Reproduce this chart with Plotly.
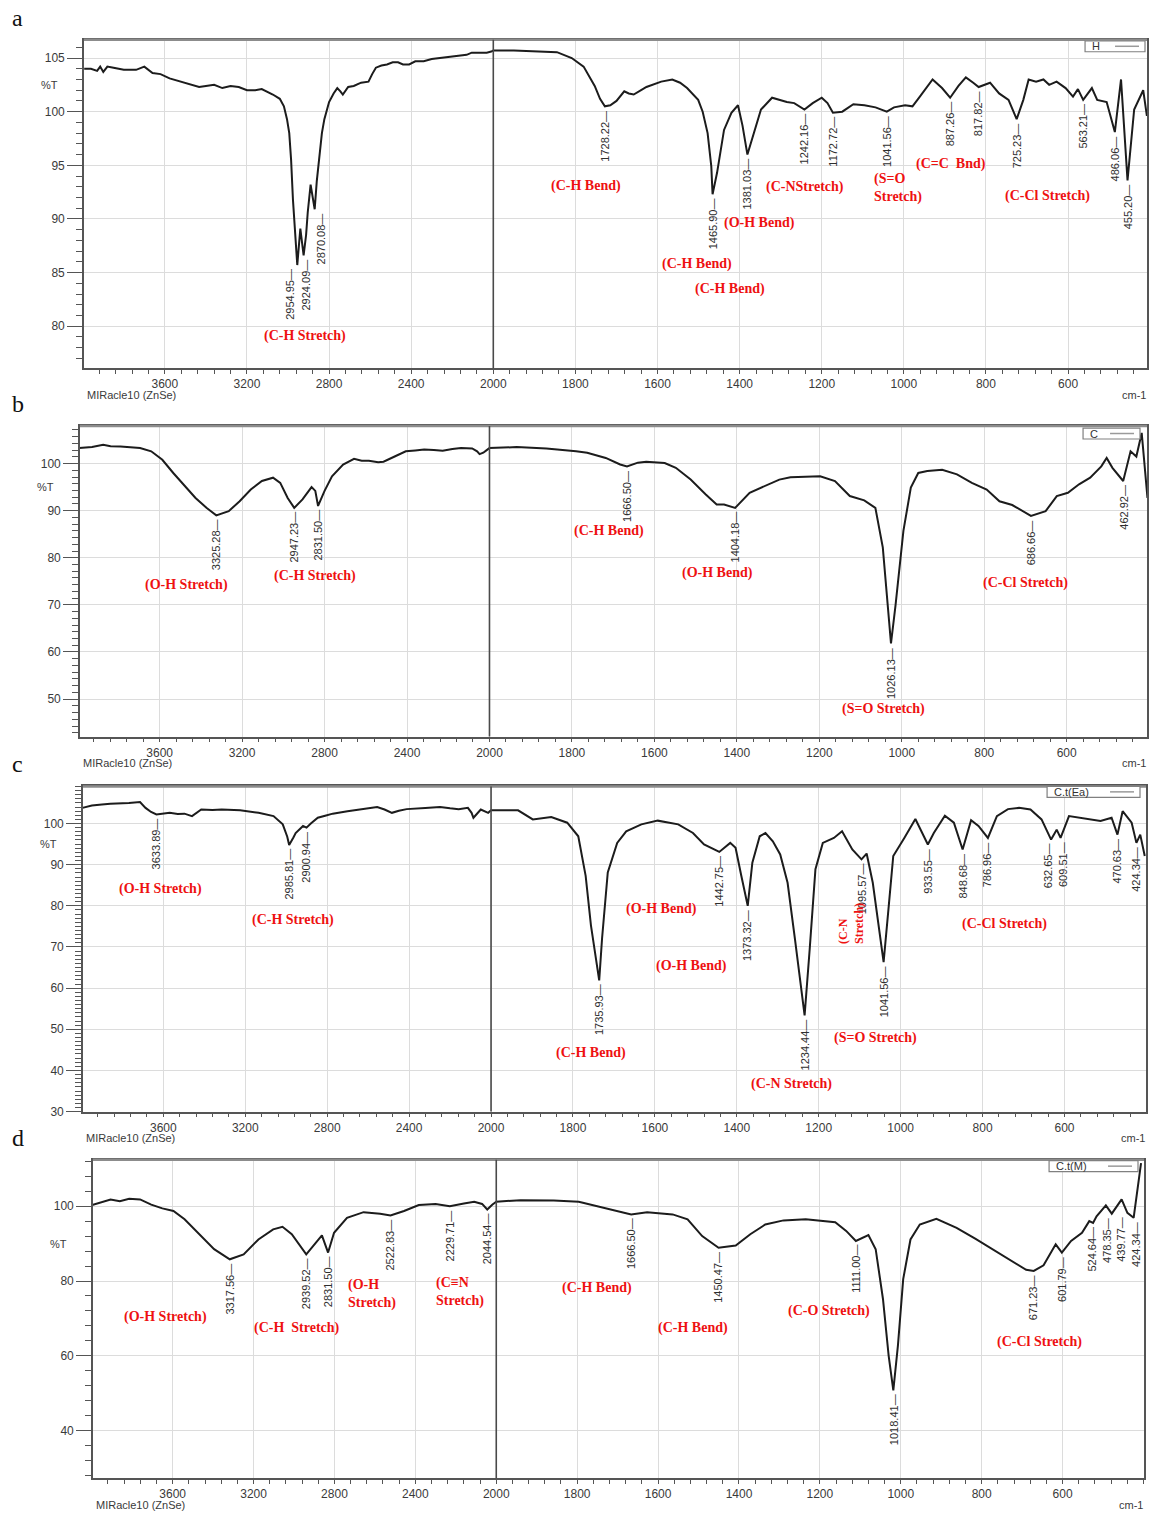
import numpy as np
import plotly.graph_objects as go

W, H = 1149, 1533

# ---------------------------------------------------------------------------
# FTIR spectra: wavenumber (cm-1, descending) and transmittance (%T)
# ---------------------------------------------------------------------------
wn_a = [3993, 3960, 3930, 3915, 3900, 3880, 3850, 3800, 3740, 3700,
        3660, 3621, 3577, 3540, 3505, 3470, 3433, 3400, 3360, 3320,
        3280, 3240, 3200, 3160, 3128, 3074, 3040, 3020, 3005, 2994,
        2985, 2976, 2965, 2954.95, 2940, 2924.09, 2912, 2904, 2890, 2880,
        2870.08, 2860, 2850, 2835, 2823, 2800, 2778, 2760, 2745, 2733,
        2707, 2680, 2644, 2608, 2590, 2572, 2545, 2518, 2490, 2464,
        2440, 2410, 2380, 2339, 2300, 2249, 2200, 2159, 2130, 2105,
        2070, 2032, 2010, 2000, 1950, 1899, 1845, 1809, 1780, 1753,
        1740, 1728.22, 1715, 1700, 1681, 1670, 1658, 1640, 1627, 1591,
        1564, 1545, 1528, 1501, 1490, 1478, 1469, 1465.90, 1455, 1438,
        1420, 1404, 1393, 1381.03, 1366, 1348, 1321, 1285, 1267, 1242.16,
        1222, 1200, 1186, 1172.72, 1150, 1123, 1096, 1069, 1041.56, 1024,
        997, 979, 961, 930, 907, 887.26, 867, 849, 831, 817.82,
        790, 768, 745, 725.23, 709, 696, 678, 660, 646, 628,
        606, 588, 576, 563.21, 542, 529, 506, 486.06, 471, 455.20,
        439, 417, 408]
T_a = [104.0, 104.0, 103.8, 104.2, 103.7, 104.2, 104.1, 103.9, 103.9, 104.2,
       103.6, 103.5, 103.1, 102.9, 102.7, 102.5, 102.3, 102.4, 102.5, 102.2,
       102.4, 102.3, 102.0, 102.0, 102.1, 101.6, 101.2, 100.5, 99.3, 98.0,
       95.5, 91.8, 88.0, 85.7, 89.1, 86.6, 88.5, 90.6, 93.2, 92.0,
       90.9, 93.5, 95.6, 98.0, 99.3, 100.9, 101.7, 102.2, 101.9, 101.6,
       102.3, 102.4, 102.7, 102.8, 103.5, 104.1, 104.3, 104.4, 104.6, 104.6,
       104.4, 104.4, 104.7, 104.7, 104.9, 105.0, 105.1, 105.2, 105.3, 105.5,
       105.5, 105.5, 105.6, 105.7, 105.7, 105.6, 105.55, 105.0, 104.2, 102.4,
       101.2, 100.5, 100.6, 101.0, 101.9, 101.7, 101.6, 102.0, 102.3, 102.8,
       103.0, 102.7, 102.2, 101.1, 100.0, 98.0, 94.9, 92.3, 94.3, 98.3,
       99.9, 100.6, 98.7, 96.0, 98.0, 100.2, 101.3, 100.9, 100.8, 100.2,
       100.8, 101.3, 100.8, 99.9, 100.0, 100.7, 100.6, 100.4, 100.0, 100.4,
       100.6, 100.5, 101.4, 103.0, 102.2, 101.3, 102.4, 103.2, 102.7, 102.3,
       102.7, 101.7, 101.1, 99.3, 101.1, 103.0, 102.8, 103.0, 102.5, 102.8,
       102.2, 101.4, 102.1, 101.1, 102.2, 101.1, 100.9, 98.1, 103.0, 93.6,
       100.2, 102.0, 99.6]
peaks_a = ["2954.95", "2924.09", "2870.08", "1728.22", "1465.90", "1381.03",
           "1242.16", "1172.72", "1041.56", "887.26", "817.82", "725.23",
           "563.21", "486.06", "455.20"]

wn_b = [3990, 3928, 3874, 3838, 3790, 3749, 3695, 3641, 3587, 3534,
        3480, 3426, 3373, 3325.28, 3265, 3212, 3158, 3104, 3050, 3015,
        2979, 2947.23, 2907, 2863, 2845, 2831.50, 2800, 2764, 2710, 2657,
        2620, 2585, 2540, 2514, 2460, 2406, 2360, 2317, 2270, 2227,
        2180, 2138, 2084, 2060, 2048, 2030, 2015, 2000, 1934, 1862,
        1790, 1763, 1718, 1683, 1666.50, 1640, 1620, 1575, 1548, 1512,
        1476, 1449, 1431, 1404.18, 1369, 1333, 1297, 1270, 1198, 1162,
        1126, 1091, 1064, 1046, 1035, 1026.13, 1015, 1004, 996, 978,
        960, 938, 902, 866, 830, 794, 763, 732, 700, 686.66,
        651, 624, 597, 570, 543, 516, 503, 489, 462.92, 445,
        431, 418, 404]
T_b = [103.3, 103.5, 104.0, 103.7, 103.6, 103.5, 103.3, 102.6, 100.8, 98.0,
       95.4, 92.7, 90.6, 89.0, 89.9, 92.0, 94.5, 96.3, 97.0, 95.9,
       92.7, 90.6, 92.4, 95.0, 94.2, 91.0, 94.2, 97.3, 99.8, 101.0,
       100.6, 100.6, 100.3, 100.4, 101.5, 102.6, 102.8, 103.0, 102.9, 102.7,
       103.1, 103.3, 103.2, 102.6, 102.0, 102.3, 102.8, 103.3, 103.5, 103.2,
       102.6, 102.3, 101.2, 99.8, 99.4, 100.2, 100.4, 100.1, 99.1, 96.6,
       93.5, 91.3, 91.3, 90.6, 93.8, 95.2, 96.6, 97.1, 97.3, 96.3,
       93.1, 92.2, 90.6, 82.2, 70.2, 61.8, 70.0, 80.0, 85.7, 94.9,
       98.0, 98.4, 98.7, 97.7, 95.9, 94.5, 92.0, 91.2, 89.5, 88.9,
       89.9, 93.1, 93.8, 95.6, 97.0, 99.4, 101.2, 99.1, 96.3, 102.6,
       101.5, 106.5, 92.7]
peaks_b = ["3325.28", "2947.23", "2831.50", "1666.50", "1404.18", "1026.13",
           "686.66", "462.92"]

wn_c = [3995, 3949, 3900, 3859, 3768, 3714, 3687, 3660, 3633.89, 3600,
        3569, 3530, 3497, 3460, 3415, 3360, 3315, 3225, 3180, 3135,
        3062, 3017, 2995, 2985.81, 2965, 2954, 2918, 2900.94, 2880, 2846,
        2810, 2773, 2701, 2629, 2556, 2520, 2484, 2450, 2412, 2321,
        2249, 2200, 2158, 2113, 2095, 2086, 2065, 2050, 2014, 2000,
        1934, 1898, 1853, 1814, 1787, 1769, 1756, 1735.93, 1729, 1715,
        1692, 1670, 1633, 1593, 1543, 1507, 1480, 1442.75, 1416, 1403,
        1389, 1373.32, 1362, 1344, 1330, 1312, 1294, 1276, 1258, 1234.44,
        1222, 1208, 1190, 1163, 1143, 1118, 1095.57, 1083, 1068, 1041.56,
        1029, 1018, 991, 964, 933.55, 919, 892, 870, 848.68, 828,
        810, 786.96, 765, 738, 711, 683, 656, 632.65, 619, 609.51,
        589, 548, 512, 485, 470.63, 458, 436, 424.34, 415, 404]
T_c = [103.8, 104.4, 104.6, 104.8, 105.0, 105.2, 103.8, 102.8, 102.2, 102.5,
       102.6, 102.3, 102.4, 101.8, 103.4, 103.3, 103.4, 103.2, 102.9, 102.6,
       101.8, 99.8, 96.8, 94.8, 96.6, 97.7, 99.4, 99.0, 100.0, 101.4,
       101.9, 102.4, 103.0, 103.5, 104.0, 103.4, 102.6, 103.1, 103.5, 103.8,
       104.0, 103.7, 103.5, 103.8, 102.6, 101.4, 102.6, 103.4, 102.6, 103.2,
       103.2, 101.0, 101.6, 100.2, 96.9, 87.3, 75.2, 61.9, 72.0, 88.1,
       95.3, 98.1, 99.8, 100.7, 99.8, 97.7, 94.9, 93.1, 95.3, 94.1,
       87.3, 80.0, 90.5, 96.9, 97.7, 95.7, 92.5, 85.6, 71.9, 53.4,
       69.5, 88.9, 95.3, 96.5, 98.1, 93.7, 91.3, 92.7, 85.6, 66.3,
       80.0, 92.1, 96.5, 101.1, 94.9, 97.7, 101.9, 100.2, 93.7, 100.8,
       99.4, 96.5, 101.8, 103.5, 103.8, 103.4, 101.0, 96.1, 98.5, 96.5,
       101.8, 101.1, 100.6, 101.4, 97.3, 103.0, 100.2, 95.3, 97.3, 92.1]
peaks_c = ["3633.89", "2985.81", "2900.94", "1735.93", "1442.75", "1373.32",
           "1234.44", "1095.57", "1041.56", "933.55", "848.68", "786.96",
           "632.65", "609.51", "470.63", "424.34"]

wn_d = [3998, 3943, 3907, 3861, 3815, 3761, 3706, 3651, 3596, 3541,
        3468, 3395, 3317.56, 3249, 3176, 3103, 3057, 3011, 2939.52, 2893,
        2862, 2831.50, 2802, 2738, 2656, 2574, 2522.83, 2456, 2383, 2300,
        2229.71, 2160, 2109, 2070, 2044.54, 2020, 2000, 1940, 1858, 1796,
        1765, 1719, 1666.50, 1627, 1564, 1527, 1491, 1450.47, 1408, 1372,
        1335, 1290, 1235, 1162, 1135, 1111.00, 1080, 1062, 1044, 1030,
        1018.41, 1007, 994, 976, 953, 912, 862, 816, 771, 725,
        690, 671.23, 647, 617, 601.79, 579, 552, 534, 524.64, 516,
        493, 478.35, 454, 439.77, 424.34, 406]
T_d = [100.3, 101.1, 101.8, 101.3, 102.0, 101.8, 100.4, 99.4, 98.7, 96.5,
       92.5, 88.5, 85.8, 87.1, 91.1, 93.8, 94.5, 92.5, 87.1, 90.2,
       92.2, 87.6, 92.9, 96.9, 98.4, 98.0, 97.5, 98.7, 100.3, 100.6,
       100.0, 100.7, 101.2, 100.6, 99.1, 100.4, 101.2, 101.6, 101.5, 101.2,
       100.4, 99.1, 97.8, 98.4, 97.8, 96.5, 92.0, 88.9, 89.5, 92.5,
       95.1, 96.2, 96.5, 95.7, 93.4, 90.7, 92.3, 88.5, 75.2, 60.1,
       50.8, 62.8, 80.5, 91.1, 95.1, 96.6, 94.2, 91.3, 88.3, 85.4,
       83.0, 82.7, 84.2, 89.8, 87.6, 90.7, 92.9, 96.0, 95.5, 97.3,
       100.2, 98.0, 101.8, 98.2, 96.9, 111.5]
peaks_d = ["3317.56", "2939.52", "2831.50", "2522.83", "2229.71", "2044.54",
           "1666.50", "1450.47", "1111.00", "1018.41", "671.23", "601.79",
           "524.64", "478.35", "439.77", "424.34"]

# Band assignments: (text, wavenumber, %T, anchor, rotated)
bands_a = [("(C-H Stretch)", 2918, 79.1), ("(C-H Bend)", 1775, 93.1),
           ("(C-H Bend)", 1503, 85.8), ("(C-H Bend)", 1423, 83.5),
           ("(O-H Bend)", 1352, 89.6), ("(C-NStretch)", 1240, 93.0),
           ("(S=O<br>Stretch)", 1077, 92.9, "left"), ("(C=C  Bnd)", 885, 95.1),
           ("(C-Cl Stretch)", 649, 92.1)]
bands_b = [("(O-H Stretch)", 3470, 74.2), ("(C-H Stretch)", 2848, 76.1),
           ("(C-H Bend)", 1711, 85.6), ("(O-H Bend)", 1447, 76.7),
           ("(S=O Stretch)", 1044, 47.9), ("(C-Cl Stretch)", 701, 74.6)]
bands_c = [("(O-H Stretch)", 3612, 84.1), ("(C-H Stretch)", 2966, 76.6),
           ("(O-H Bend)", 1584, 79.3), ("(O-H Bend)", 1511, 65.5),
           ("(C-H Bend)", 1755, 44.2), ("(C-N Stretch)", 1267, 36.7),
           ("(S=O Stretch)", 1062, 48.0), ("(C-Cl Stretch)", 747, 75.7),
           ("(C-N<br>Stretch)", 1121, 75.6, "center", True)]
bands_d = [("(O-H Stretch)", 3634, 70.4), ("(C-H  Stretch)", 2986, 67.5),
           ("(O-H<br>Stretch)", 2744, 76.6, "left"),
           ("(C≡N<br>Stretch)", 2310, 77.0, "left"),
           ("(C-H Bend)", 1752, 78.1), ("(C-H Bend)", 1513, 67.5),
           ("(C-O Stretch)", 1177, 72.0), ("(C-Cl Stretch)", 656, 63.7)]

samples = ["H", "C", "C.t(Ea)", "C.t(M)"]
x_ticks = [3600, 3200, 2800, 2400, 2000, 1800, 1600, 1400, 1200, 1000, 800, 600]


def xt(w):
    """Instrument x scale: above 2000 cm-1 the axis is compressed 2:1."""
    w = np.asarray(w, dtype=float)
    return np.where(w > 2000, 2000 + (w - 2000) / 2.0, w)


# Panel geometry (pixels on the page) and axis settings
panels = [
    dict(tag="a", wn=wn_a, T=T_a, peaks=peaks_a, bands=bands_a,
         frame=(84, 40, 1148, 370), gx=(165, 1069), gy=((105, 58.3), (80, 327.7)),
         yt=[80, 85, 90, 95, 100, 105], ymin=1, pct=85, box=(1086, 41, 1146, 52),
         shift={"2954.95": -8, "2924.09": 2, "2870.08": 6}),
    dict(tag="b", wn=wn_b, T=T_b, peaks=peaks_b, bands=bands_b,
         frame=(80, 428, 1148, 740), gx=(159.8, 1067.6), gy=((100, 465.7), (50, 702.3)),
         yt=[50, 60, 70, 80, 90, 100], ymin=10 / 7, pct=489, box=(1084, 430, 1141, 441),
         shift={}),
    dict(tag="c", wn=wn_c, T=T_c, peaks=peaks_c, bands=bands_c,
         frame=(83, 790, 1147, 1116.7), gx=(163.5, 1065.4), gy=((100, 827.3), (30, 1116.7)),
         yt=[30, 40, 50, 60, 70, 80, 90, 100], ymin=1, pct=848, box=(1048, 790, 1141, 801),
         shift={"632.65": -3, "609.51": 3}),
    dict(tag="d", wn=wn_d, T=T_d, peaks=peaks_d, bands=bands_d,
         frame=(93, 1165, 1145, 1485), gx=(172.8, 1063.5), gy=((100, 1211.7), (40, 1437.3)),
         yt=[40, 60, 80, 100], ymin=4, pct=1250, box=(1050, 1166, 1139, 1177),
         shift={"524.64": -2, "478.35": -5, "439.77": -6, "424.34": 3}),
]

AX = "#555555"
GRID = "#dcdcdc"
TXT = "#3a3a3a"
SANS = "Liberation Sans, Arial, sans-serif"
NARROW = "Liberation Sans Narrow, Arial Narrow, Liberation Sans, sans-serif"
SERIF = "Liberation Serif, Times New Roman, serif"

fig = go.Figure()
layout = dict(width=W, height=H, margin=dict(l=0, r=0, t=0, b=0),
              paper_bgcolor="white", plot_bgcolor="white", showlegend=False)
annotations, shapes = [], []


def px(x):
    return x / W


def py(y):
    return 1 - y / H


for i, p in enumerate(panels, start=1):
    sx = "" if i == 1 else str(i)
    xa, ya = "x" + sx, "y" + sx
    fx0, fy0, fx1, fy1 = p["frame"]

    # map frame pixels to axis ranges
    k = (p["gx"][1] - p["gx"][0]) / 2200.0
    xr = [2800 + (p["gx"][0] - fx0) / k, 600 - (fx1 - p["gx"][1]) / k]
    (vhi, phi), (vlo, plo) = p["gy"]
    s = (plo - phi) / (vhi - vlo)
    yr = [vlo - (fy1 - plo) / s, vhi + (phi - fy0) / s]

    wn = np.array(p["wn"], dtype=float)
    T = np.array(p["T"], dtype=float)
    fig.add_trace(go.Scatter(x=xt(wn), y=T, mode="lines", name=samples[i - 1],
                             line=dict(color="#1c1c1c", width=2.0),
                             xaxis=xa, yaxis=ya, hoverinfo="skip"))

    layout["xaxis" + sx] = dict(
        domain=[px(fx0), px(fx1)], range=xr, anchor=ya,
        tickmode="array", tickvals=list(xt(x_ticks)), ticktext=[str(v) for v in x_ticks],
        showgrid=True, gridcolor=GRID, gridwidth=1, zeroline=False,
        showline=True, linecolor=AX, linewidth=1.5, mirror=True,
        ticks="outside", ticklen=4, tickcolor=AX,
        minor=dict(tickmode="linear", tick0=0, dtick=40, ticks="outside",
                   ticklen=4, tickcolor=AX, showgrid=False),
        tickfont=dict(family=SANS, size=12, color=TXT))
    layout["yaxis" + sx] = dict(
        domain=[py(fy1), py(fy0)], range=yr, anchor=xa,
        tickmode="array", tickvals=p["yt"], ticktext=[str(v) for v in p["yt"]],
        showgrid=True, gridcolor=GRID, gridwidth=1, zeroline=False,
        showline=True, linecolor=AX, linewidth=1.5, mirror=True,
        ticks="outside", ticklen=15, tickcolor=AX,
        minor=dict(tickmode="linear", tick0=0, dtick=p["ymin"], ticks="outside",
                   ticklen=6, tickcolor=AX, showgrid=False),
        tickfont=dict(family=SANS, size=12, color=TXT))

    # top border drawn a little heavier, as on the instrument print-out
    shapes.append(dict(type="line", xref="paper", yref="paper",
                       x0=px(fx0), x1=px(fx1), y0=py(fy0), y1=py(fy0),
                       line=dict(color="#8c8c8c", width=2.5)))
    # 2000 cm-1 scale-change line
    shapes.append(dict(type="line", xref=xa, yref=ya + " domain",
                       x0=2000, x1=2000, y0=0, y1=1,
                       line=dict(color="#4a4a4a", width=1.6)))

    # peak labels
    wn_inc, T_inc = wn[::-1], T[::-1]
    for lab in p["peaks"]:
        w = float(lab)
        annotations.append(dict(
            x=float(xt(w)), y=float(np.interp(w, wn_inc, T_inc)), xref=xa, yref=ya,
            text=lab + "—", textangle=-90, showarrow=False,
            xanchor="center", yanchor="top", yshift=-2, xshift=p["shift"].get(lab, 0),
            font=dict(family=NARROW, size=11, color="#2e2e2e")))

    # band assignments
    for b in p["bands"]:
        text, w, tv = b[0], b[1], b[2]
        anchor = b[3] if len(b) > 3 else "center"
        rot = b[4] if len(b) > 4 else False
        annotations.append(dict(
            x=float(xt(w)), y=tv, xref=xa, yref=ya, text=text, showarrow=False,
            xanchor=anchor, yanchor="middle", align="left",
            textangle=-90 if rot else 0,
            font=dict(family=SERIF, size=14 if not rot else 12, color="#ee1111",
                      weight="bold")))

    # panel letter, %T, footer texts
    annotations.append(dict(x=px(18), y=py(fy0 - 22), xref="paper", yref="paper",
                            text=p["tag"], showarrow=False, xanchor="center",
                            yanchor="middle",
                            font=dict(family=SERIF, size=24, color="#111111")))
    annotations.append(dict(x=px(fx0 - 34), y=py(p["pct"]), xref="paper", yref="paper",
                            text="%T", showarrow=False, xanchor="center",
                            yanchor="middle",
                            font=dict(family=SANS, size=11, color=TXT)))
    annotations.append(dict(x=px(fx0 + 1), y=py(fy1 + 27), xref="paper", yref="paper",
                            text="MIRacle10 (ZnSe)", showarrow=False, xanchor="left",
                            yanchor="middle",
                            font=dict(family=SANS, size=11, color=TXT)))
    annotations.append(dict(x=px(fx1 + 1), y=py(fy1 + 27), xref="paper", yref="paper",
                            text="cm-1", showarrow=False, xanchor="right",
                            yanchor="middle",
                            font=dict(family=SANS, size=11, color=TXT)))

    # sample key box (name followed by a line sample)
    bx0, by0, bx1, by1 = p["box"]
    shapes.append(dict(type="rect", xref="paper", yref="paper",
                       x0=px(bx0), x1=px(bx1), y0=py(by1), y1=py(by0),
                       line=dict(color="#808080", width=1.2), fillcolor="white"))
    shapes.append(dict(type="line", xref="paper", yref="paper",
                       x0=px(bx1 - 30), x1=px(bx1 - 6),
                       y0=py((by0 + by1) / 2), y1=py((by0 + by1) / 2),
                       line=dict(color="#9a9a9a", width=1.5)))
    annotations.append(dict(x=px(bx0 + 5), y=py((by0 + by1) / 2), xref="paper",
                            yref="paper", text=samples[i - 1], showarrow=False,
                            xanchor="left", yanchor="middle",
                            font=dict(family=SANS, size=11, color="#333333")))

layout["annotations"] = annotations
layout["shapes"] = shapes
fig.update_layout(**layout)
fig.write_html("out.html")
